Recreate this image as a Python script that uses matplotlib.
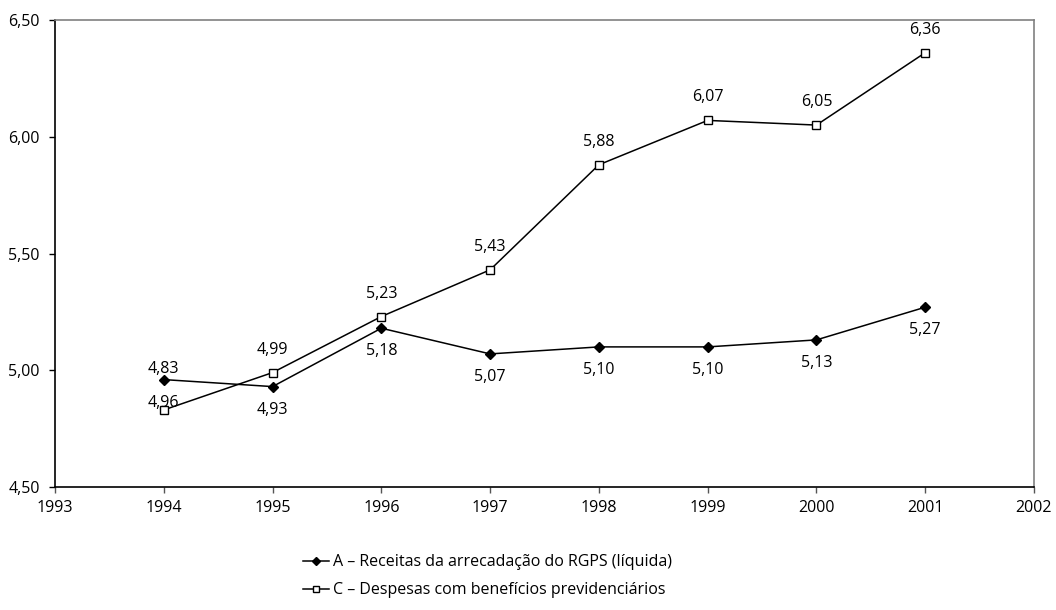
import matplotlib
matplotlib.use("Agg")
import matplotlib.pyplot as plt
from matplotlib.ticker import FixedLocator, FuncFormatter

plt.rcParams['font.family'] = ['Open Sans', 'DejaVu Sans']

years = [1994, 1995, 1996, 1997, 1998, 1999, 2000, 2001]
receitas = [4.96, 4.93, 5.18, 5.07, 5.10, 5.10, 5.13, 5.27]
despesas = [4.83, 4.99, 5.23, 5.43, 5.88, 6.07, 6.05, 6.36]
label_a = "A – Receitas da arrecadação do RGPS (líquida)"
label_c = "C – Despesas com benefícios previdenciários"
x_ticks = list(range(1993, 2003))
y_ticks = [4.50, 5.00, 5.50, 6.00, 6.50]

fig = plt.figure(figsize=(10.56, 6.10), dpi=100)
ax = fig.add_axes([55/1056, 1 - 487/610, (1034-55)/1056, (487-20)/610])

la, = ax.plot(years, receitas, color='black', lw=1.1, marker='D', ms=5.5,
              mfc='black', mec='black')
lc, = ax.plot(years, despesas, color='black', lw=1.1, marker='s', ms=6,
              mfc='white', mec='black', mew=1.0)

fs = 11.5
for i, (x, y) in enumerate(zip(years, receitas)):
    ax.annotate(f"{y:.2f}".replace('.', ','), (x, y), xytext=(0, -16.5),
                textcoords='offset points', ha='center', va='center', fontsize=fs)
for i, (x, y) in enumerate(zip(years, despesas)):
    off = 29.5 if i == 0 else 16.5
    ax.annotate(f"{y:.2f}".replace('.', ','), (x, y), xytext=(0, off),
                textcoords='offset points', ha='center', va='center', fontsize=fs)

ax.set_xlim(1993, 2002)
ax.set_ylim(4.5, 6.5)
ax.xaxis.set_major_locator(FixedLocator(x_ticks))
ax.yaxis.set_major_locator(FixedLocator(y_ticks))
ax.yaxis.set_major_formatter(FuncFormatter(lambda v, p: f"{v:.2f}".replace('.', ',')))
ax.xaxis.set_major_formatter(FuncFormatter(lambda v, p: f"{int(round(v))}"))
ax.tick_params(direction='out', length=4, width=1, labelsize=fs, pad=5)
ax.tick_params(axis='y', pad=7)
ax.tick_params(axis='x', colors='#555555', labelcolor='black')
for s in ['left', 'bottom']:
    ax.spines[s].set_color('black')
    ax.spines[s].set_linewidth(1.2)
for s in ['top', 'right']:
    ax.spines[s].set_color('#808080')
    ax.spines[s].set_linewidth(1.2)

fig.legend([la, lc], [label_a, label_c], loc='upper left',
           bbox_to_anchor=(289/1056, 1 - 540/610), frameon=False, fontsize=fs,
           handlelength=1.6, handletextpad=0.25, labelspacing=0.75,
           markerscale=0.75)

fig.savefig("out.png", dpi=100)
